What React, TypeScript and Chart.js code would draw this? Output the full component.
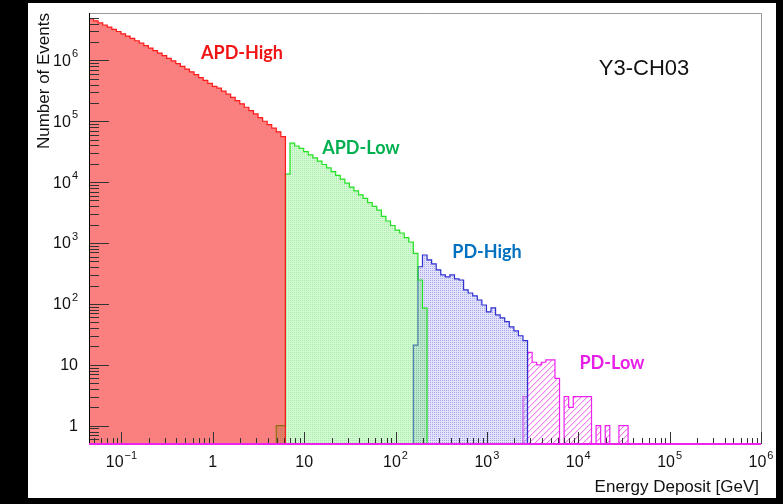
import React, { useEffect, useRef } from 'react';
import { Chart, registerables } from 'chart.js';

Chart.register(...registerables);

// ---- binning (log10 of energy in GeV) ----
const BIN_LOG_START = -1.355;
const BIN_LOG_WIDTH = 0.05;

// ---- series: first bin index + counts per bin (0 = empty bin) ----
const APD_HIGH_FIRST_BIN = 0;
const APD_HIGH_COUNTS = [
  4830000, 4470000, 4130000, 3810000, 3520000, 3240000, 2980000, 2730000, 2510000, 2300000,
  2100000, 1920000, 1750000, 1590000, 1450000, 1320000, 1200000, 1080000, 980000, 885000,
  798000, 719000, 648000, 582000, 522000, 468000, 419000, 374000, 350000, 313000,
  278000, 246000, 218000, 193000, 170000, 150000, 132000, 115000, 100000, 88000,
  77000, 67000, 56000,
];

const APD_LOW_FIRST_BIN = 41;
const APD_LOW_COUNTS = [
  1, 1, 13500, 43600, 39200, 35800, 31700, 28100, 25000, 22100,
  19500, 17100, 14900, 12900, 11200, 9600, 8300, 7200, 6200, 5400,
  4600, 4000, 3460, 2750, 2300, 1940, 1630, 1460, 1230, 1040,
  678, 247, 85,
];

const PD_HIGH_FIRST_BIN = 71;
const PD_HIGH_COUNTS = [
  21, 408, 636, 527, 453, 361, 299, 277, 299, 257,
  247, 170, 151, 135, 116, 96, 74, 86, 66, 59,
  51, 42, 36, 30, 25,
];

const PD_LOW_FIRST_BIN = 95;
const PD_LOW_COUNTS = [
  3, 16, 11, 10, 11, 12, 12, 6, 0, 3,
  2, 3, 3, 3, 3, 0, 1, 0, 1, 0,
  0, 1, 1,
];

const SERIES_LABELS = ['APD-High', 'APD-Low', 'PD-High', 'PD-Low'];

// ---- axes ----
const X_MIN = 0.04416;
const X_MAX = 1e6;
const Y_MIN = 0.5;
const Y_MAX = 6e6;
const X_MAJOR_TICKS = [0.1, 1, 10, 100, 1e3, 1e4, 1e5, 1e6];
const X_TICK_BASES = ['10', '1', '10', '10', '10', '10', '10', '10'];
const X_TICK_EXPS = ['\u22121', '', '', '2', '3', '4', '5', '6'];
const Y_MAJOR_TICKS = [1, 10, 100, 1e3, 1e4, 1e5, 1e6];
const Y_TICK_BASES = ['1', '10', '10', '10', '10', '10', '10'];
const Y_TICK_EXPS = ['', '', '2', '3', '4', '5', '6'];
const MINOR_DECADES = [0.01, 0.1, 1, 10, 100, 1e3, 1e4, 1e5, 1e6];
const MINOR_MULTIPLIERS = [2, 3, 4, 5, 6, 7, 8, 9];
const X_TITLE = 'Energy Deposit [GeV]';
const Y_TITLE = 'Number of Events';
const PANEL_TITLE = 'Y3-CH03';

const ZERO_FLOOR = 1e-3;
const FONT = '"Liberation Sans", Arial, Helvetica, sans-serif';

function binEdge(k: number) {
  return Math.pow(10, BIN_LOG_START + k * BIN_LOG_WIDTH);
}

function histPoints(first: number, counts: number[]) {
  const pts: { x: number; y: number }[] = [];
  pts.push({ x: binEdge(first), y: ZERO_FLOOR });
  counts.forEach((c, i) => pts.push({ x: binEdge(first + i), y: c > 0 ? c : ZERO_FLOOR }));
  const end = first + counts.length;
  const lastVal = counts[counts.length - 1];
  pts.push({ x: binEdge(end), y: lastVal > 0 ? lastVal : ZERO_FLOOR });
  pts.push({ x: binEdge(end), y: ZERO_FLOOR });
  return pts;
}

function makePattern(size: number, draw: (g: CanvasRenderingContext2D) => void) {
  const c = document.createElement('canvas');
  c.width = size;
  c.height = size;
  const g = c.getContext('2d')!;
  draw(g);
  return g.createPattern(c, 'repeat')!;
}

function drawPow(
  ctx: CanvasRenderingContext2D,
  base: string,
  exp: string,
  x: number,
  y: number,
  align: 'center' | 'right'
) {
  ctx.font = `16px ${FONT}`;
  const wb = ctx.measureText(base).width;
  ctx.font = `11px ${FONT}`;
  const we = exp ? ctx.measureText(exp).width + 1 : 0;
  const total = wb + we;
  const left = align === 'center' ? x - total / 2 : x - total;
  ctx.textAlign = 'left';
  ctx.textBaseline = 'middle';
  ctx.font = `16px ${FONT}`;
  ctx.fillText(base, left, y);
  if (exp) {
    ctx.font = `11px ${FONT}`;
    ctx.fillText(exp, left + wb + 1, y - 7);
  }
}

const backgroundPlugin = {
  id: 'rootBackground',
  beforeDraw(chart: any) {
    const ctx = chart.ctx as CanvasRenderingContext2D;
    ctx.save();
    ctx.fillStyle = '#000';
    ctx.fillRect(0, 0, chart.width, chart.height);
    ctx.fillStyle = '#fff';
    ctx.fillRect(28, 3, 748, 495);
    ctx.restore();
  },
};

const framePlugin = {
  id: 'rootFrame',
  afterDatasetsDraw(chart: any) {
    const ctx = chart.ctx as CanvasRenderingContext2D;
    const { left, right, top, bottom } = chart.chartArea;
    const xs = chart.scales.x;
    const ys = chart.scales.y;
    ctx.save();

    // frame
    ctx.lineWidth = 1;
    ctx.strokeStyle = '#999';
    ctx.beginPath();
    ctx.moveTo(left, top + 0.5);
    ctx.lineTo(right + 0.5, top + 0.5);
    ctx.lineTo(right + 0.5, bottom);
    ctx.stroke();

    // ticks (inward)
    ctx.strokeStyle = '#333';
    ctx.beginPath();
    X_MAJOR_TICKS.forEach((v) => {
      const px = Math.round(xs.getPixelForValue(v)) + 0.5;
      ctx.moveTo(px, bottom);
      ctx.lineTo(px, bottom - 12);
    });
    MINOR_DECADES.forEach((d) =>
      MINOR_MULTIPLIERS.forEach((m) => {
        const v = d * m;
        if (v <= X_MIN || v >= X_MAX) return;
        const px = Math.round(xs.getPixelForValue(v)) + 0.5;
        ctx.moveTo(px, bottom);
        ctx.lineTo(px, bottom - 6);
      })
    );
    Y_MAJOR_TICKS.forEach((v) => {
      const py = Math.round(ys.getPixelForValue(v)) + 0.5;
      ctx.moveTo(left, py);
      ctx.lineTo(left + 20, py);
    });
    MINOR_DECADES.forEach((d) =>
      MINOR_MULTIPLIERS.forEach((m) => {
        const v = d * m;
        if (v <= Y_MIN || v >= Y_MAX) return;
        const py = Math.round(ys.getPixelForValue(v)) + 0.5;
        ctx.moveTo(left, py);
        ctx.lineTo(left + 10, py);
      })
    );
    ctx.stroke();

    // left axis
    ctx.strokeStyle = '#000';
    ctx.beginPath();
    ctx.moveTo(left + 0.5, top);
    ctx.lineTo(left + 0.5, bottom);
    ctx.stroke();

    // bottom line (PD-Low histogram at zero level)
    ctx.strokeStyle = '#ee22ee';
    ctx.lineWidth = 2;
    ctx.beginPath();
    ctx.moveTo(left, bottom);
    ctx.lineTo(right, bottom);
    ctx.stroke();

    // tick labels
    ctx.fillStyle = '#111';
    X_MAJOR_TICKS.forEach((v, i) => {
      drawPow(ctx, X_TICK_BASES[i], X_TICK_EXPS[i], xs.getPixelForValue(v), bottom + 19, 'center');
    });
    Y_MAJOR_TICKS.forEach((v, i) => {
      drawPow(ctx, Y_TICK_BASES[i], Y_TICK_EXPS[i], left - 11, ys.getPixelForValue(v) + 1, 'right');
    });

    // axis titles
    ctx.font = `17px ${FONT}`;
    ctx.textAlign = 'right';
    ctx.textBaseline = 'middle';
    ctx.fillText(X_TITLE, right - 2, 487);
    ctx.save();
    ctx.translate(44, top);
    ctx.rotate(-Math.PI / 2);
    ctx.fillText(Y_TITLE, 0, 0);
    ctx.restore();

    // panel title
    ctx.font = `22px ${FONT}`;
    ctx.textAlign = 'center';
    ctx.fillStyle = '#111';
    ctx.fillText(PANEL_TITLE, 644, 69);

    // series annotations
    const ann: [string, string, number, number][] = [
      [SERIES_LABELS[0], '#f01414', 242, 53],
      [SERIES_LABELS[1], '#00b050', 361, 148],
      [SERIES_LABELS[2], '#0070c0', 487, 252],
      [SERIES_LABELS[3], '#e61ee6', 612, 363],
    ];
    ctx.font = `bold 18px Lato, "Open Sans", sans-serif`;
    ann.forEach(([t, c, x, y]) => {
      ctx.fillStyle = c;
      ctx.fillText(t, x, y);
    });
    ctx.restore();
  },
};

export default function App() {
  const ref = useRef<HTMLCanvasElement | null>(null);

  useEffect(() => {
    const canvas = ref.current;
    if (!canvas) return;

    const greenFill = makePattern(2, (g) => {
      g.fillStyle = 'rgba(130,240,130,0.36)';
      g.fillRect(0, 0, 2, 2);
      g.fillStyle = 'rgba(60,200,60,0.28)';
      g.fillRect(0, 0, 1, 1);
    });
    const blueFill = makePattern(2, (g) => {
      g.fillStyle = 'rgba(185,185,245,0.42)';
      g.fillRect(0, 0, 2, 2);
      g.fillStyle = 'rgba(80,80,210,0.38)';
      g.fillRect(0, 0, 1, 1);
    });
    const magentaHatch = makePattern(6, (g) => {
      g.fillStyle = '#ffffff';
      g.fillRect(0, 0, 6, 6);
      g.fillStyle = '#f07cf0';
      for (let i = 0; i < 6; i++) g.fillRect(i, 5 - i, 1, 1);
      g.fillStyle = '#fad6fa';
      for (let i = 0; i < 6; i++) g.fillRect(i, (6 - i) % 6, 1, 1);
    });

    const common = {
      stepped: 'before' as const,
      pointRadius: 0,
      borderWidth: 1.2,
      tension: 0,
      fill: 'start',
    };

    const chart = new Chart(canvas, {
      type: 'line',
      data: {
        datasets: [
          {
            ...common,
            label: SERIES_LABELS[0],
            data: histPoints(APD_HIGH_FIRST_BIN, APD_HIGH_COUNTS),
            borderColor: '#ff1a1a',
            backgroundColor: 'rgba(245,0,0,0.5)',
          },
          {
            ...common,
            label: SERIES_LABELS[1],
            data: histPoints(APD_LOW_FIRST_BIN, APD_LOW_COUNTS),
            borderColor: '#22e022',
            backgroundColor: greenFill,
          },
          {
            ...common,
            label: SERIES_LABELS[2],
            data: histPoints(PD_HIGH_FIRST_BIN, PD_HIGH_COUNTS),
            borderColor: '#3030d0',
            backgroundColor: blueFill,
          },
          {
            ...common,
            label: SERIES_LABELS[3],
            data: histPoints(PD_LOW_FIRST_BIN, PD_LOW_COUNTS),
            borderColor: '#ee22ee',
            backgroundColor: magentaHatch,
          },
        ] as any,
      },
      options: {
        animation: false,
        responsive: false,
        devicePixelRatio: 1,
        events: [],
        layout: { padding: { left: 89, right: 22, top: 13, bottom: 60 } },
        plugins: {
          legend: { display: false },
          tooltip: { enabled: false },
          title: { display: false },
        },
        scales: {
          x: { type: 'logarithmic', min: X_MIN, max: X_MAX, display: false },
          y: { type: 'logarithmic', min: Y_MIN, max: Y_MAX, display: false },
        },
      },
      plugins: [backgroundPlugin, framePlugin],
    });

    return () => chart.destroy();
  }, []);

  return (
    <div style={{ position: 'fixed', left: 0, top: 0, width: 783, height: 504 }}>
      <canvas ref={ref} width={783} height={504} style={{ display: 'block' }} />
    </div>
  );
}
